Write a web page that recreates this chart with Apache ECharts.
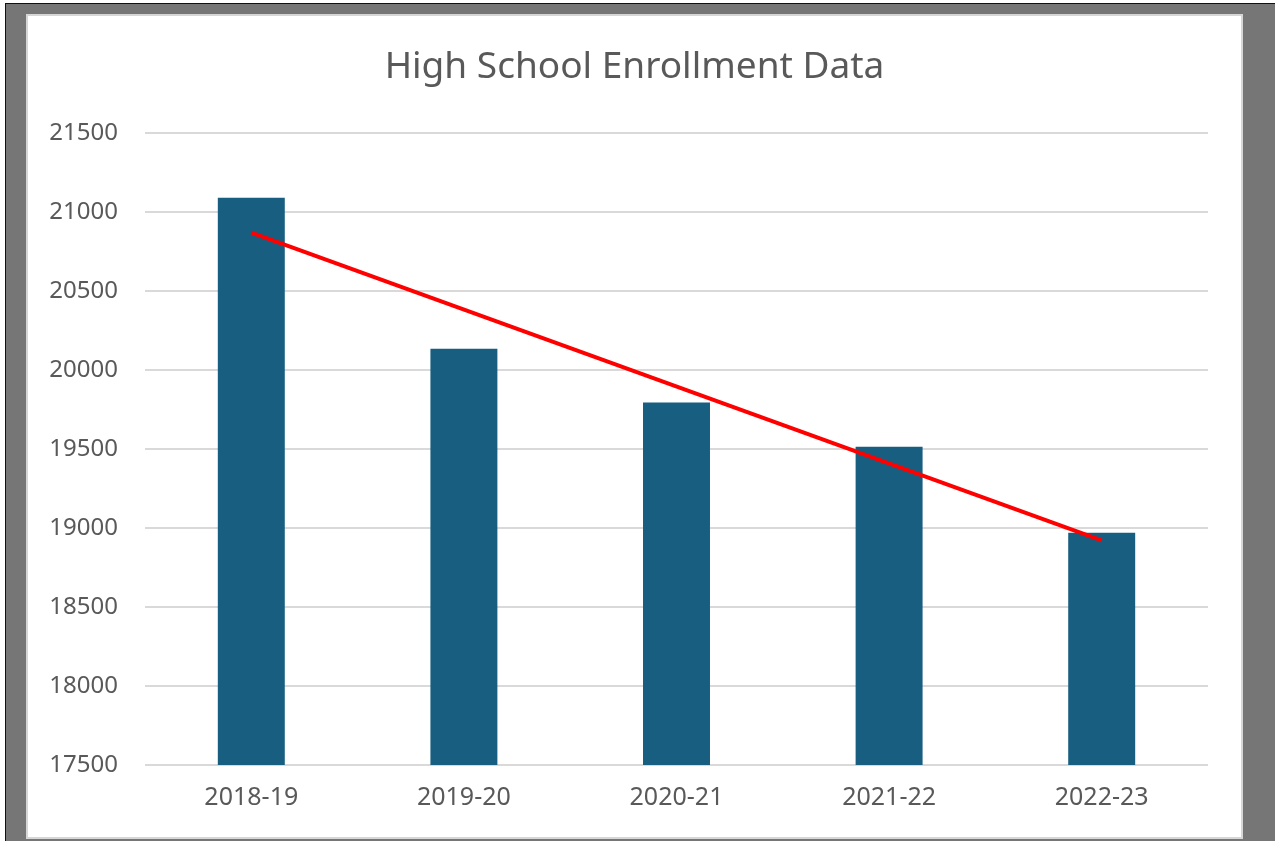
<!DOCTYPE html>
<html>
<head>
<meta charset="utf-8">
<script src="https://cdn.jsdelivr.net/npm/echarts@6/dist/echarts.min.js"></script>
<style>
  html, body { margin: 0; padding: 0; background: #ffffff; width: 1275px; height: 841px; overflow: hidden; }
  #frame { position: absolute; left: 5px; top: 3px; width: 1270px; height: 838px; background: #767676;
           border-top: 1.5px solid #111; border-left: 1.5px solid #111; box-sizing: border-box; }
  #chart { position: absolute; left: 26px; top: 14px; width: 1217px; height: 825px; background: #ffffff;
           border: 2px solid #d6d6d6; box-sizing: border-box; }
</style>
</head>
<body>
<div id="frame"></div>
<div id="chart"></div>
<script>
const titleText = "High School Enrollment Data";
const categories = ["2018-19", "2019-20", "2020-21", "2021-22", "2022-23"];
const enrollment = [21090, 20135, 19795, 19515, 18970];
const trendValues = [20870, null, null, null, 18922];
const yMin = 17500, yMax = 21500, yStep = 500;

const chart = echarts.init(document.getElementById('chart'), null, { renderer: 'canvas' });
chart.setOption({
  animation: false,
  backgroundColor: '#ffffff',
  title: {
    text: titleText,
    left: 'center',
    top: 28,
    textStyle: { fontFamily: 'Noto Sans', fontSize: 37, fontWeight: 'normal', color: '#595959' }
  },
  grid: { left: 117, right: 33, top: 117, bottom: 72, containLabel: false },
  xAxis: {
    type: 'category',
    data: categories,
    axisLine: { show: false },
    axisTick: { show: false },
    axisLabel: { fontFamily: 'Noto Sans', fontSize: 25, color: '#595959', margin: 20 }
  },
  yAxis: {
    type: 'value',
    min: yMin, max: yMax, interval: yStep,
    axisLine: { show: false },
    axisTick: { show: false },
    splitLine: { lineStyle: { color: '#d9d9d9', width: 2 } },
    axisLabel: { fontFamily: 'Noto Sans', fontSize: 24, color: '#595959', margin: 27,
                 formatter: function (v) { return String(v); } }
  },
  series: [
    {
      type: 'bar',
      data: enrollment,
      barWidth: '31.5%',
      itemStyle: { color: '#175e80' },
      z: 2
    },
    {
      type: 'line',
      data: trendValues,
      connectNulls: true,
      symbol: 'none',
      lineStyle: { color: '#ff0000', width: 4 },
      z: 3
    }
  ]
});
</script>
</body>
</html>
